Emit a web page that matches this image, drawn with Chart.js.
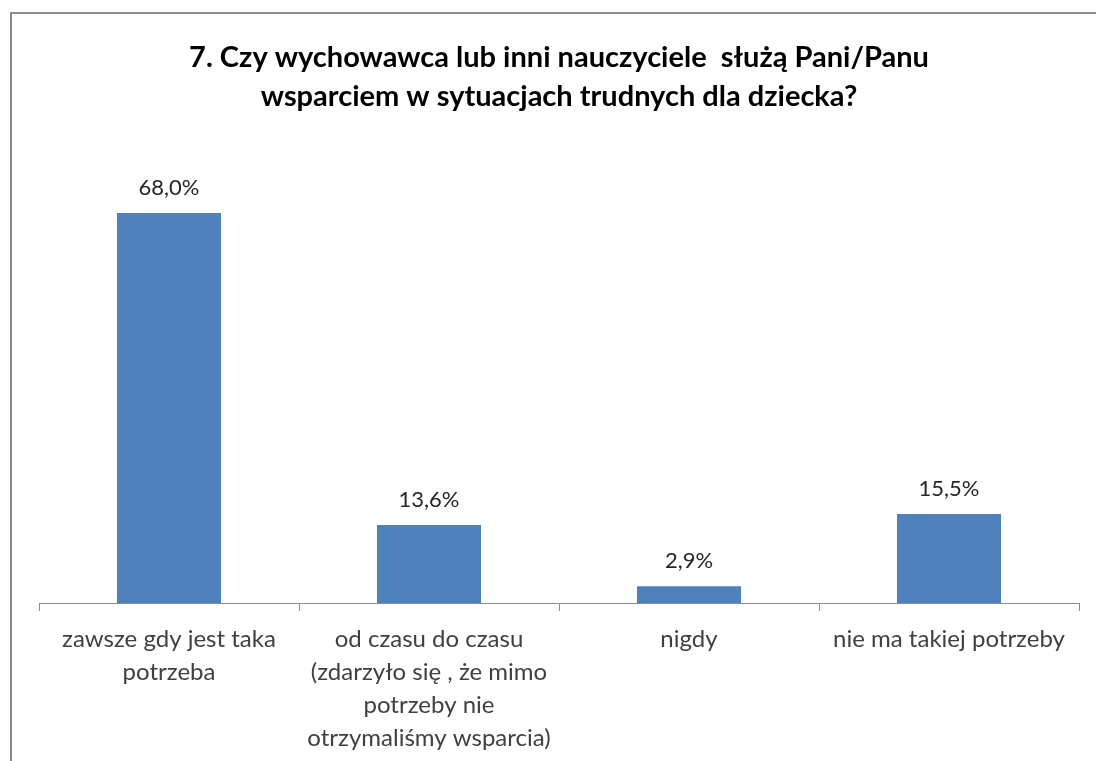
<!DOCTYPE html>
<html>
<head>
<meta charset="utf-8">
<script src="https://cdn.jsdelivr.net/npm/chart.js@4/dist/chart.umd.min.js"></script>
<style>
  html, body { margin: 0; padding: 0; background: #fff; overflow: hidden; }
  #wrap { position: relative; width: 1096px; height: 761px; }
  #frame { position: absolute; left: 10px; top: 12px; width: 1200px; height: 900px;
           border-left: 2px solid #8c8c8c; border-top: 2px solid #8c8c8c; }
  canvas { position: absolute; left: 0; top: 0; }
</style>
</head>
<body>
<div id="wrap">
  <div id="frame"></div>
  <canvas id="chart" width="1096" height="761"></canvas>
</div>
<script>
// values
const categories = [
  ["zawsze gdy jest taka", "potrzeba"],
  ["od czasu do czasu", "(zdarzyło się , że mimo", "potrzeby nie", "otrzymaliśmy wsparcia)"],
  ["nigdy"],
  ["nie ma takiej potrzeby"]
]
const values = [68.0, 13.6, 2.9, 15.5]
const titleLines = [
  "7. Czy wychowawca lub inni nauczyciele  służą Pani/Panu",
  "wsparciem w sytuacjach trudnych dla dziecka?"
]

const fontFamily = "Lato, 'Open Sans', sans-serif"

// draws the percentage above each bar
const valueLabels = {
  id: "valueLabels",
  afterDatasetsDraw(chart){
    const ctx = chart.ctx
    const meta = chart.getDatasetMeta(0)
    ctx.save()
    ctx.font = "22px " + fontFamily
    ctx.fillStyle = "#262626"
    ctx.textAlign = "center"
    ctx.textBaseline = "middle"
    meta.data.forEach((bar, i) => {
      const txt = values[i].toFixed(1).replace(".", ",") + "%"
      ctx.fillText(txt, bar.x, bar.y - 25)
    })
    ctx.restore()
  }
}

new Chart(document.getElementById("chart").getContext("2d"), {
  type: "bar",
  data: {
    labels: categories,
    datasets: [{
      data: values,
      backgroundColor: "#4f81bd",
      borderWidth: 0,
      categoryPercentage: 1,
      barPercentage: 0.4
    }]
  },
  options: {
    responsive: false,
    animation: false,
    layout: { padding: { left: 39, right: 17, top: 0, bottom: -6 } },
    plugins: {
      legend: { display: false },
      tooltip: { enabled: false },
      title: {
        display: true,
        text: titleLines,
        color: "#000",
        font: { family: fontFamily, size: 29, weight: "bold", lineHeight: 39/29 },
        padding: { top: 38, bottom: 34 }
      }
    },
    scales: {
      x: {
        offset: true,
        grid: { display: true, drawOnChartArea: false, offset: true, tickLength: 8, color: "#8c8c8c" },
        border: { display: true, color: "#8c8c8c" },
        ticks: {
          color: "#404040",
          maxRotation: 0,
          autoSkip: false,
          padding: 12,
          font: { family: fontFamily, size: 24, lineHeight: 33/24 }
        }
      },
      y: {
        display: false,
        min: 0,
        max: 79
      }
    }
  },
  plugins: [valueLabels]
})
</script>
</body>
</html>
